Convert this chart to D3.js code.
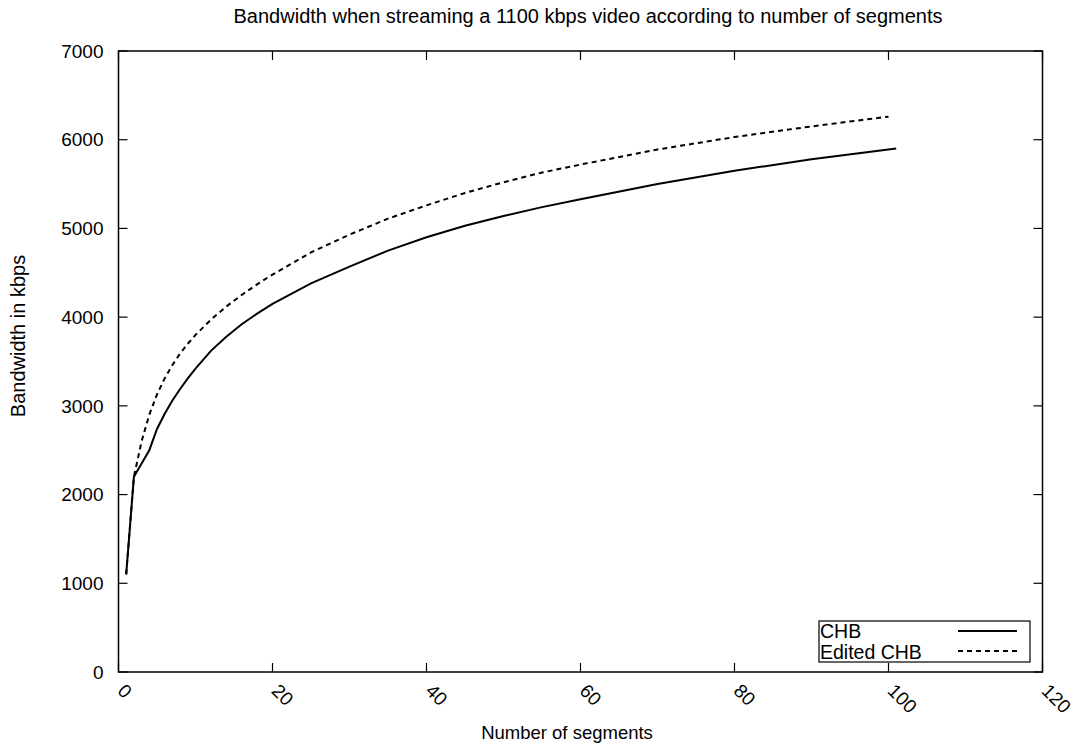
<!DOCTYPE html>
<html>
<head>
<meta charset="utf-8">
<script src="https://cdn.jsdelivr.net/npm/d3@7"></script>
<style>
  body { margin: 0; background: #fff; }
  text { font-family: "Liberation Sans", Arial, sans-serif; fill: #000; }
</style>
</head>
<body>
<svg id="chart" width="1078" height="744"></svg>
<script>
const title = "Bandwidth when streaming a 1100 kbps video according to number of segments";
const xLabel = "Number of segments";
const yLabel = "Bandwidth in kbps";

const xTicks = [0, 20, 40, 60, 80, 100, 120];
const yTicks = [0, 1000, 2000, 3000, 4000, 5000, 6000, 7000];

// CHB (solid)
const chbX = [1, 2, 3, 4, 5, 6, 7, 8, 9, 10, 12, 14, 16, 18, 20, 25, 30, 35, 40, 45, 50, 55, 60, 70, 80, 90, 101];
const chbY = [1100, 2200, 2350, 2500, 2740, 2910, 3060, 3190, 3310, 3420, 3620, 3780, 3920, 4040, 4150, 4380, 4570, 4750, 4900, 5030, 5140, 5240, 5330, 5500, 5650, 5780, 5900];

// Edited CHB (dashed)
const editedX = [1, 2, 3, 4, 5, 6, 7, 8, 9, 10, 12, 14, 16, 18, 20, 25, 30, 35, 40, 45, 50, 55, 60, 70, 80, 90, 100];
const editedY = [1100, 2200, 2600, 2900, 3130, 3310, 3460, 3590, 3700, 3800, 3970, 4120, 4250, 4370, 4480, 4730, 4930, 5110, 5260, 5400, 5520, 5630, 5720, 5890, 6030, 6150, 6260];

const series = [
  { name: "CHB", xs: chbX, ys: chbY, dash: null },
  { name: "Edited CHB", xs: editedX, ys: editedY, dash: "5,4" }
];

const svg = d3.select("#chart");
const plotLeft = 118.5, plotRight = 1042.5, plotTop = 51, plotBottom = 672;

const x = d3.scaleLinear().domain([0, 120]).range([plotLeft, plotRight]);
const y = d3.scaleLinear().domain([0, 7000]).range([plotBottom, plotTop]);

const tickLen = 9;

// frame
svg.append("rect")
  .attr("x", plotLeft).attr("y", plotTop)
  .attr("width", plotRight - plotLeft).attr("height", plotBottom - plotTop)
  .attr("fill", "none").attr("stroke", "#000").attr("stroke-width", 1.5);

// ticks, mirrored inward on all sides
const tickG = svg.append("g").attr("stroke", "#000").attr("stroke-width", 1.2);
xTicks.forEach(t => {
  tickG.append("line").attr("x1", x(t)).attr("x2", x(t)).attr("y1", plotBottom).attr("y2", plotBottom - tickLen);
  tickG.append("line").attr("x1", x(t)).attr("x2", x(t)).attr("y1", plotTop).attr("y2", plotTop + tickLen);
});
yTicks.forEach(t => {
  tickG.append("line").attr("x1", plotLeft).attr("x2", plotLeft + tickLen).attr("y1", y(t)).attr("y2", y(t));
  tickG.append("line").attr("x1", plotRight).attr("x2", plotRight - tickLen).attr("y1", y(t)).attr("y2", y(t));
});

// y tick labels
svg.selectAll(".ylab").data(yTicks).enter().append("text")
  .attr("class", "ylab")
  .attr("x", plotLeft - 15)
  .attr("y", d => y(d))
  .attr("dy", "0.35em")
  .attr("text-anchor", "end")
  .style("font-size", "19px")
  .text(d => d);

// x tick labels, rotated
svg.selectAll(".xlab").data(xTicks).enter().append("text")
  .attr("class", "xlab")
  .attr("transform", d => `translate(${x(d) - 2},${plotBottom + 20}) rotate(45)`)
  .attr("text-anchor", "start")
  .style("font-size", "19px")
  .text(d => d);

// titles
svg.append("text")
  .attr("x", 588).attr("y", 23)
  .attr("text-anchor", "middle")
  .style("font-size", "20px")
  .text(title);

svg.append("text")
  .attr("x", 567).attr("y", 739)
  .attr("text-anchor", "middle")
  .style("font-size", "18.5px")
  .text(xLabel);

svg.append("text")
  .attr("transform", `translate(25,336) rotate(-90)`)
  .attr("text-anchor", "middle")
  .style("font-size", "20px")
  .text(yLabel);

// curves
const line = d3.line().x(d => x(d[0])).y(d => y(d[1]));
series.forEach(s => {
  svg.append("path")
    .datum(s.xs.map((v, i) => [v, s.ys[i]]))
    .attr("d", line)
    .attr("fill", "none")
    .attr("stroke", "#000")
    .attr("stroke-width", 2)
    .attr("stroke-dasharray", s.dash);
});

// legend
const lg = svg.append("g");
lg.append("rect")
  .attr("x", 819).attr("y", 621).attr("width", 211).attr("height", 41)
  .attr("fill", "#fff").attr("stroke", "#000").attr("stroke-width", 1.2);
series.forEach((s, i) => {
  const cy = 631 + i * 20;
  lg.append("text")
    .attr("x", 820).attr("y", 638 + i * 20.5)
    .style("font-size", "19.5px")
    .text(s.name);
  lg.append("line")
    .attr("x1", 958).attr("x2", 1017).attr("y1", cy).attr("y2", cy)
    .attr("stroke", "#000").attr("stroke-width", 2)
    .attr("stroke-dasharray", s.dash);
});
</script>
</body>
</html>
